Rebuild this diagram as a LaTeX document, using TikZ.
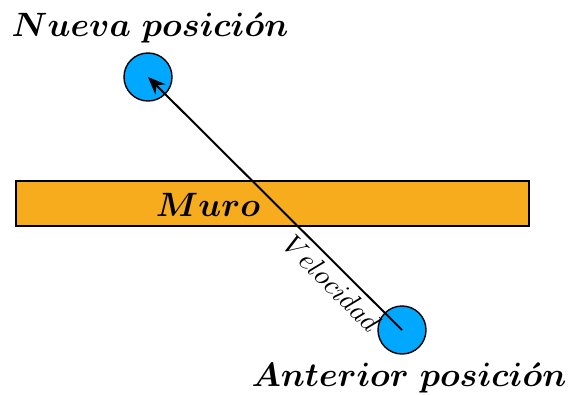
\documentclass[tikz,border=0pt]{standalone}
\usepackage{amsmath}
\definecolor{muroorange}{RGB}{246,172,28}
\definecolor{bolablue}{RGB}{0,168,255}
\usetikzlibrary{arrows.meta,positioning}
\tikzset{
  bola/.style={circle, draw=black, fill=bolablue, line width=0.5pt, minimum size=0.6cm, inner sep=0pt},
  rotulo/.style={font=\large\boldmath}
}
\begin{document}
\begin{tikzpicture}[x=0.0125cm, y=0.0125cm]
  \useasboundingbox (0,0) rectangle (570,394);
  % Wall
  \node[draw=black, fill=muroorange, line width=1pt, minimum width=6.41cm, minimum height=0.5625cm, inner sep=0pt] (muro) at (272.5,190.5) {};
  \node[rotulo] (murotxt) at (208,189) {$Muro$};
  % Positions
  \node[bola] (nueva) at (148,317) {};
  \node[bola] (anterior) at (402,64) {};
  \node[rotulo] (nuevatxt) at (150,366) {$Nueva\ posici\acute{o}n$};
  \node[rotulo] (anteriortxt) at (409,16) {$Anterior\ posici\acute{o}n$};
  % Velocity arrow
  \draw[-{Stealth[length=2.2mm, width=1.8mm]}, line width=0.7pt] (anterior.center) -- (nueva.center)
    node[pos=0.23, sloped, below, inner sep=2pt] (veltxt) {$Velocidad$};
\end{tikzpicture}
\end{document}
